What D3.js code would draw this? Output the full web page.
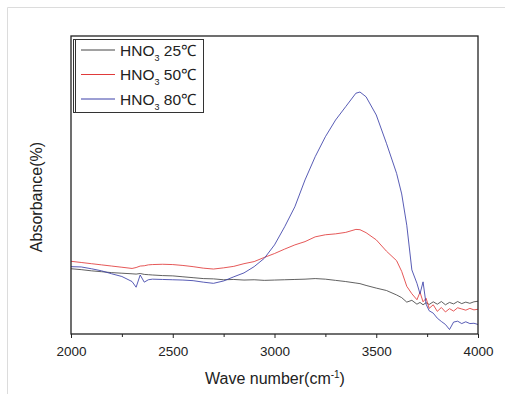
<!DOCTYPE html>
<html><head><meta charset="utf-8">
<script src="https://cdn.jsdelivr.net/npm/d3@7"></script>
<style>body{margin:0;background:#fff}svg{display:block}</style>
</head><body>
<script>
const wavenumbers=[2000,2050,2100,2150,2200,2250,2300,2320,2340,2360,2380,2400,2450,2500,2550,2600,2650,2700,2750,2800,2850,2900,2950,3000,3050,3100,3150,3200,3250,3300,3350,3400,3420,3450,3500,3550,3600,3625,3650,3675,3700,3715,3730,3745,3760,3780,3800,3820,3840,3860,3880,3900,3920,3940,3960,3980,4000];
const hno3_25=[21.9,21.6,21.2,20.9,20.6,20.4,20.2,20.1,20.3,20.0,19.9,19.8,19.6,19.5,19.2,18.9,18.6,18.5,18.2,18.3,18.1,18.2,18.0,18.1,18.2,18.3,18.4,18.6,18.4,18.0,17.6,17.1,16.9,16.3,15.4,14.6,13.1,12.2,10.7,11.3,10.0,10.6,9.8,10.5,9.9,10.8,10.0,10.9,9.8,10.6,10.1,10.9,10.2,10.7,10.3,10.8,11.0];
const hno3_50=[24.4,24.0,23.6,23.2,22.8,22.4,22.0,22.3,22.8,22.9,23.2,23.3,23.4,23.3,23.0,22.6,22.1,21.8,22.2,22.7,23.6,24.3,25.7,27.0,28.5,29.9,31.0,32.6,33.3,33.6,34.1,35.1,35.0,34.0,31.6,27.8,24.6,21.0,16.0,13.5,11.5,14.0,10.8,12.0,8.6,9.8,7.6,8.9,7.4,8.5,7.7,8.8,8.4,8.0,8.6,8.1,8.3];
const hno3_80=[22.6,22.5,21.9,21.2,20.2,19.3,17.6,15.7,19.8,17.4,18.2,18.4,18.3,18.2,18.1,17.9,17.4,17.0,17.8,19.2,20.5,22.6,25.4,29.9,36.0,42.7,51.7,59.5,66.2,71.8,76.3,80.8,81.2,79.6,73.5,64.0,53.9,47.0,36.5,21.5,17.0,13.5,17.5,10.0,7.8,7.0,5.3,4.2,3.2,1.5,4.0,4.3,3.5,4.1,3.5,3.6,3.2];
const seriesNames=["25℃","50℃","80℃"];
const seriesColors=["#444444","#e03a3a","#3a3fa8"];
const xTicks=[2000,2500,3000,3500,4000];
const xMinorTicks=[2250,2750,3250,3750];

const W=505,H=394;
const m={l:71,r:478,t:36,b:334};
const FONT="Liberation Sans, Arial, sans-serif";
const svg=d3.select("body").append("svg").attr("width",W).attr("height",H);
svg.append("path").attr("d",`M7.5,${H} V7.5 H${W}`).attr("fill","none").attr("stroke","#dcdcdc").attr("stroke-width",1);

const x=d3.scaleLinear().domain([2000,4000]).range([m.l,m.r]);
const y=d3.scaleLinear().domain([0,100]).range([m.b,m.t]);

const data=[hno3_25,hno3_50,hno3_80];
const line=d3.line().x((d,i)=>x(wavenumbers[i])).y(d=>y(d));
const g=svg.append("g");
g.append("clipPath").attr("id","c").append("rect").attr("x",m.l).attr("y",m.t).attr("width",m.r-m.l).attr("height",m.b-m.t);
data.forEach((s,k)=>{
  g.append("path").datum(s).attr("d",line).attr("fill","none").attr("stroke",seriesColors[k]).attr("stroke-width",0.85).attr("clip-path","url(#c)");
});

svg.append("rect").attr("x",m.l).attr("y",m.t).attr("width",m.r-m.l).attr("height",m.b-m.t).attr("fill","none").attr("stroke","#222").attr("stroke-width",1.3);

const xa=svg.append("g").attr("transform",`translate(0,${m.b})`).call(d3.axisBottom(x).tickValues(xTicks).tickFormat(d3.format("d")).tickSize(4).tickSizeOuter(0));
xa.select(".domain").remove();
xa.selectAll("line").attr("stroke","#222");
xa.selectAll("text").attr("font-family",FONT).attr("font-size",13.5).attr("fill","#222").attr("dy","0.71em").attr("y",12);
const xm=svg.append("g").attr("transform",`translate(0,${m.b})`).call(d3.axisBottom(x).tickValues(xMinorTicks).tickFormat("").tickSize(3).tickSizeOuter(0));
xm.select(".domain").remove();
xm.selectAll("line").attr("stroke","#222");

const xt=svg.append("text").attr("x",275).attr("y",384).attr("text-anchor","middle").attr("font-family",FONT).attr("font-size",16).attr("fill","#222");
xt.append("tspan").text("Wave number(cm");
xt.append("tspan").attr("dy",-6).attr("font-size",10).text("-1");
xt.append("tspan").attr("dy",6).text(")");
svg.append("text").attr("transform","translate(42,197) rotate(-90)").attr("text-anchor","middle").attr("font-family",FONT).attr("font-size",16).attr("fill","#222").text("Absorbance(%)");

const lg=svg.append("g");
lg.append("rect").attr("x",73.5).attr("y",39.5).attr("width",130).attr("height",73).attr("fill","#fff").attr("stroke","#333").attr("stroke-width",1);
lg.append("line").attr("x1",75.5).attr("x2",75.5).attr("y1",40).attr("y2",112).attr("stroke","#333").attr("stroke-width",1);
seriesNames.forEach((n,k)=>{
  const yy=50+k*24.5;
  lg.append("line").attr("x1",81).attr("x2",115).attr("y1",yy).attr("y2",yy).attr("stroke",seriesColors[k]).attr("stroke-width",1);
  const t=lg.append("text").attr("x",120).attr("y",yy+5.5).attr("font-family",FONT).attr("font-size",15.5).attr("fill","#222");
  t.append("tspan").text("HNO");
  t.append("tspan").attr("dy",5).attr("font-size",9).text("3");
  t.append("tspan").attr("dy",-5).text(" "+n);
});
</script>
</body></html>
